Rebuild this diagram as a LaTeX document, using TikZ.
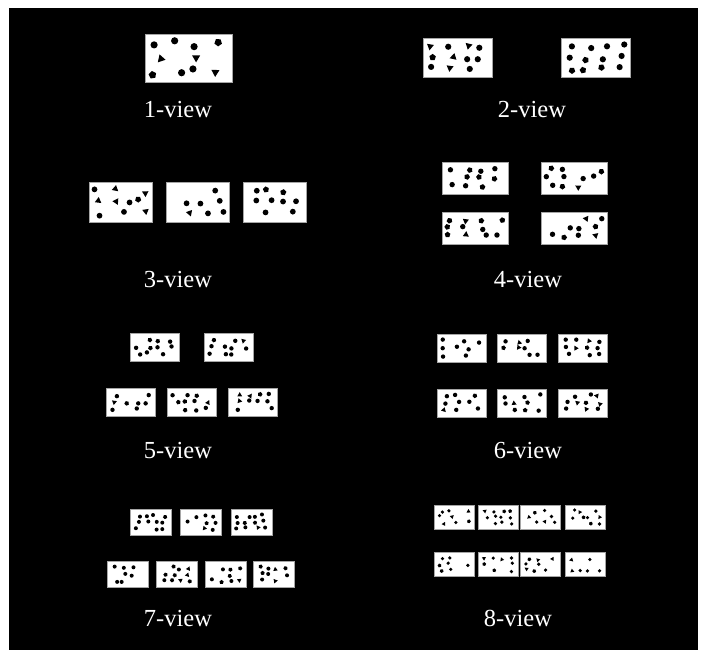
\documentclass[tikz,border=0pt]{standalone}
\usepackage{fontspec}
\setmainfont{Liberation Serif}

% one view image: name, centre x, centre y, width, height, keep chance, dot radius
\newcommand\viewimg[7]{%
  \node[viewbox, minimum width=#4pt, minimum height=#5pt] (#1) at (#2,#3) {};
  \pgfmathsetmacro\cw{(#4-2*#7-8)/3.4}
  \pgfmathsetmacro\ch{(#5-2*#7-6)/2.5}
  \foreach \i in {0,...,3}{
    \foreach \j in {0,...,2}{
      \pgfmathsetmacro\keep{rnd}
      \pgfmathsetmacro\px{(\i-1.5+(rnd-0.5)*0.6)*\cw}
      \pgfmathsetmacro\py{(\j-1+(rnd-0.5)*0.5)*\ch}
      \pgfmathsetmacro\rot{rnd*120}
      \pgfmathrandominteger\kind{0}{4}
      \ifdim\keep pt<#6pt
        \ifnum\kind=3
          \fill[black] ([shift={(\px,\py)}]#1.center) +(\rot:#7*1.3) -- +(\rot+120:#7*1.3) -- +(\rot+240:#7*1.3) -- cycle;
        \else\ifnum\kind=4
          \fill[black] ([shift={(\px,\py)}]#1.center) +(\rot:#7*1.1) -- +(\rot+72:#7*1.1) -- +(\rot+144:#7*1.1) -- +(\rot+216:#7*1.1) -- +(\rot+288:#7*1.1) -- cycle;
        \else
          \fill[black] ([shift={(\px,\py)}]#1.center) circle[radius=#7];
        \fi\fi
      \fi
    }
  }%
}

\begin{document}
\begin{tikzpicture}[x=1pt, y=-1pt,
    viewbox/.style={draw=gray!70, line width=0.9pt, fill=white, inner sep=0pt},
    caption/.style={text=white, font=\fontsize{24.5}{28}\selectfont, inner sep=0pt}]
    \useasboundingbox (0,0) rectangle (708,659);
    \fill[white] (0,0) rectangle (708,659);
    \fill[black] (9,8) rectangle (698,650);
    \pgfmathsetseed{2718}

    % 1-view
    \viewimg{a1}{188.5}{58}{87}{48}{0.8}{3.6}
    \node[caption] (l1) at (178,110) {1-view};

    % 2-view
    \viewimg{b1}{457.5}{57.5}{69}{39}{0.75}{3.1}
    \viewimg{b2}{595.5}{57.5}{69}{39}{0.75}{3.1}
    \node[caption] (l2) at (532,110) {2-view};

    % 3-view
    \viewimg{c1}{120.5}{202}{63}{40}{0.75}{2.9}
    \viewimg{c2}{197.5}{202}{63}{40}{0.75}{2.9}
    \viewimg{c3}{275}{202}{63}{40}{0.75}{2.9}
    \node[caption] (l3) at (178,280) {3-view};

    % 4-view
    \viewimg{d1}{475}{178}{66}{32}{0.75}{2.7}
    \viewimg{d2}{574}{178}{66}{32}{0.75}{2.7}
    \viewimg{d3}{475}{228}{66}{32}{0.75}{2.7}
    \viewimg{d4}{574}{228}{66}{32}{0.75}{2.7}
    \node[caption] (l4) at (528,280) {4-view};

    % 5-view
    \viewimg{e1}{154.5}{347}{49}{28}{0.75}{2.2}
    \viewimg{e2}{228.5}{347}{49}{28}{0.75}{2.2}
    \viewimg{e3}{130.5}{402}{49}{28}{0.75}{2.2}
    \viewimg{e4}{191.5}{402}{49}{28}{0.75}{2.2}
    \viewimg{e5}{253}{402}{49}{28}{0.75}{2.2}
    \node[caption] (l5) at (178,450) {5-view};

    % 6-view
    \viewimg{f1}{461.5}{348}{49}{28}{0.75}{2.2}
    \viewimg{f2}{522}{348}{49}{28}{0.75}{2.2}
    \viewimg{f3}{582.5}{348}{49}{28}{0.75}{2.2}
    \viewimg{f4}{461.5}{403}{49}{28}{0.75}{2.2}
    \viewimg{f5}{522}{403}{49}{28}{0.75}{2.2}
    \viewimg{f6}{582.5}{403}{49}{28}{0.75}{2.2}
    \node[caption] (l6) at (528,450) {6-view};

    % 7-view
    \viewimg{g1}{150.5}{522}{41}{26}{0.75}{2}
    \viewimg{g2}{201}{522}{41}{26}{0.75}{2}
    \viewimg{g3}{251.5}{522}{41}{26}{0.75}{2}
    \viewimg{g4}{128}{574.5}{41}{26}{0.75}{2}
    \viewimg{g5}{177}{574.5}{41}{26}{0.75}{2}
    \viewimg{g6}{225.5}{574.5}{41}{26}{0.75}{2}
    \viewimg{g7}{273.5}{574.5}{41}{26}{0.75}{2}
    \node[caption] (l7) at (178,618) {7-view};

    % 8-view
    \viewimg{h1}{454}{517}{40}{24}{0.75}{1.8}
    \viewimg{h2}{498.5}{517}{40}{24}{0.75}{1.8}
    \viewimg{h3}{540.5}{517}{40}{24}{0.75}{1.8}
    \viewimg{h4}{585.5}{517}{40}{24}{0.75}{1.8}
    \viewimg{h5}{454}{564.5}{40}{24}{0.75}{1.8}
    \viewimg{h6}{498.5}{564.5}{40}{24}{0.75}{1.8}
    \viewimg{h7}{540.5}{564.5}{40}{24}{0.75}{1.8}
    \viewimg{h8}{585.5}{564.5}{40}{24}{0.75}{1.8}
    \node[caption] (l8) at (518,618) {8-view};
\end{tikzpicture}
\end{document}
